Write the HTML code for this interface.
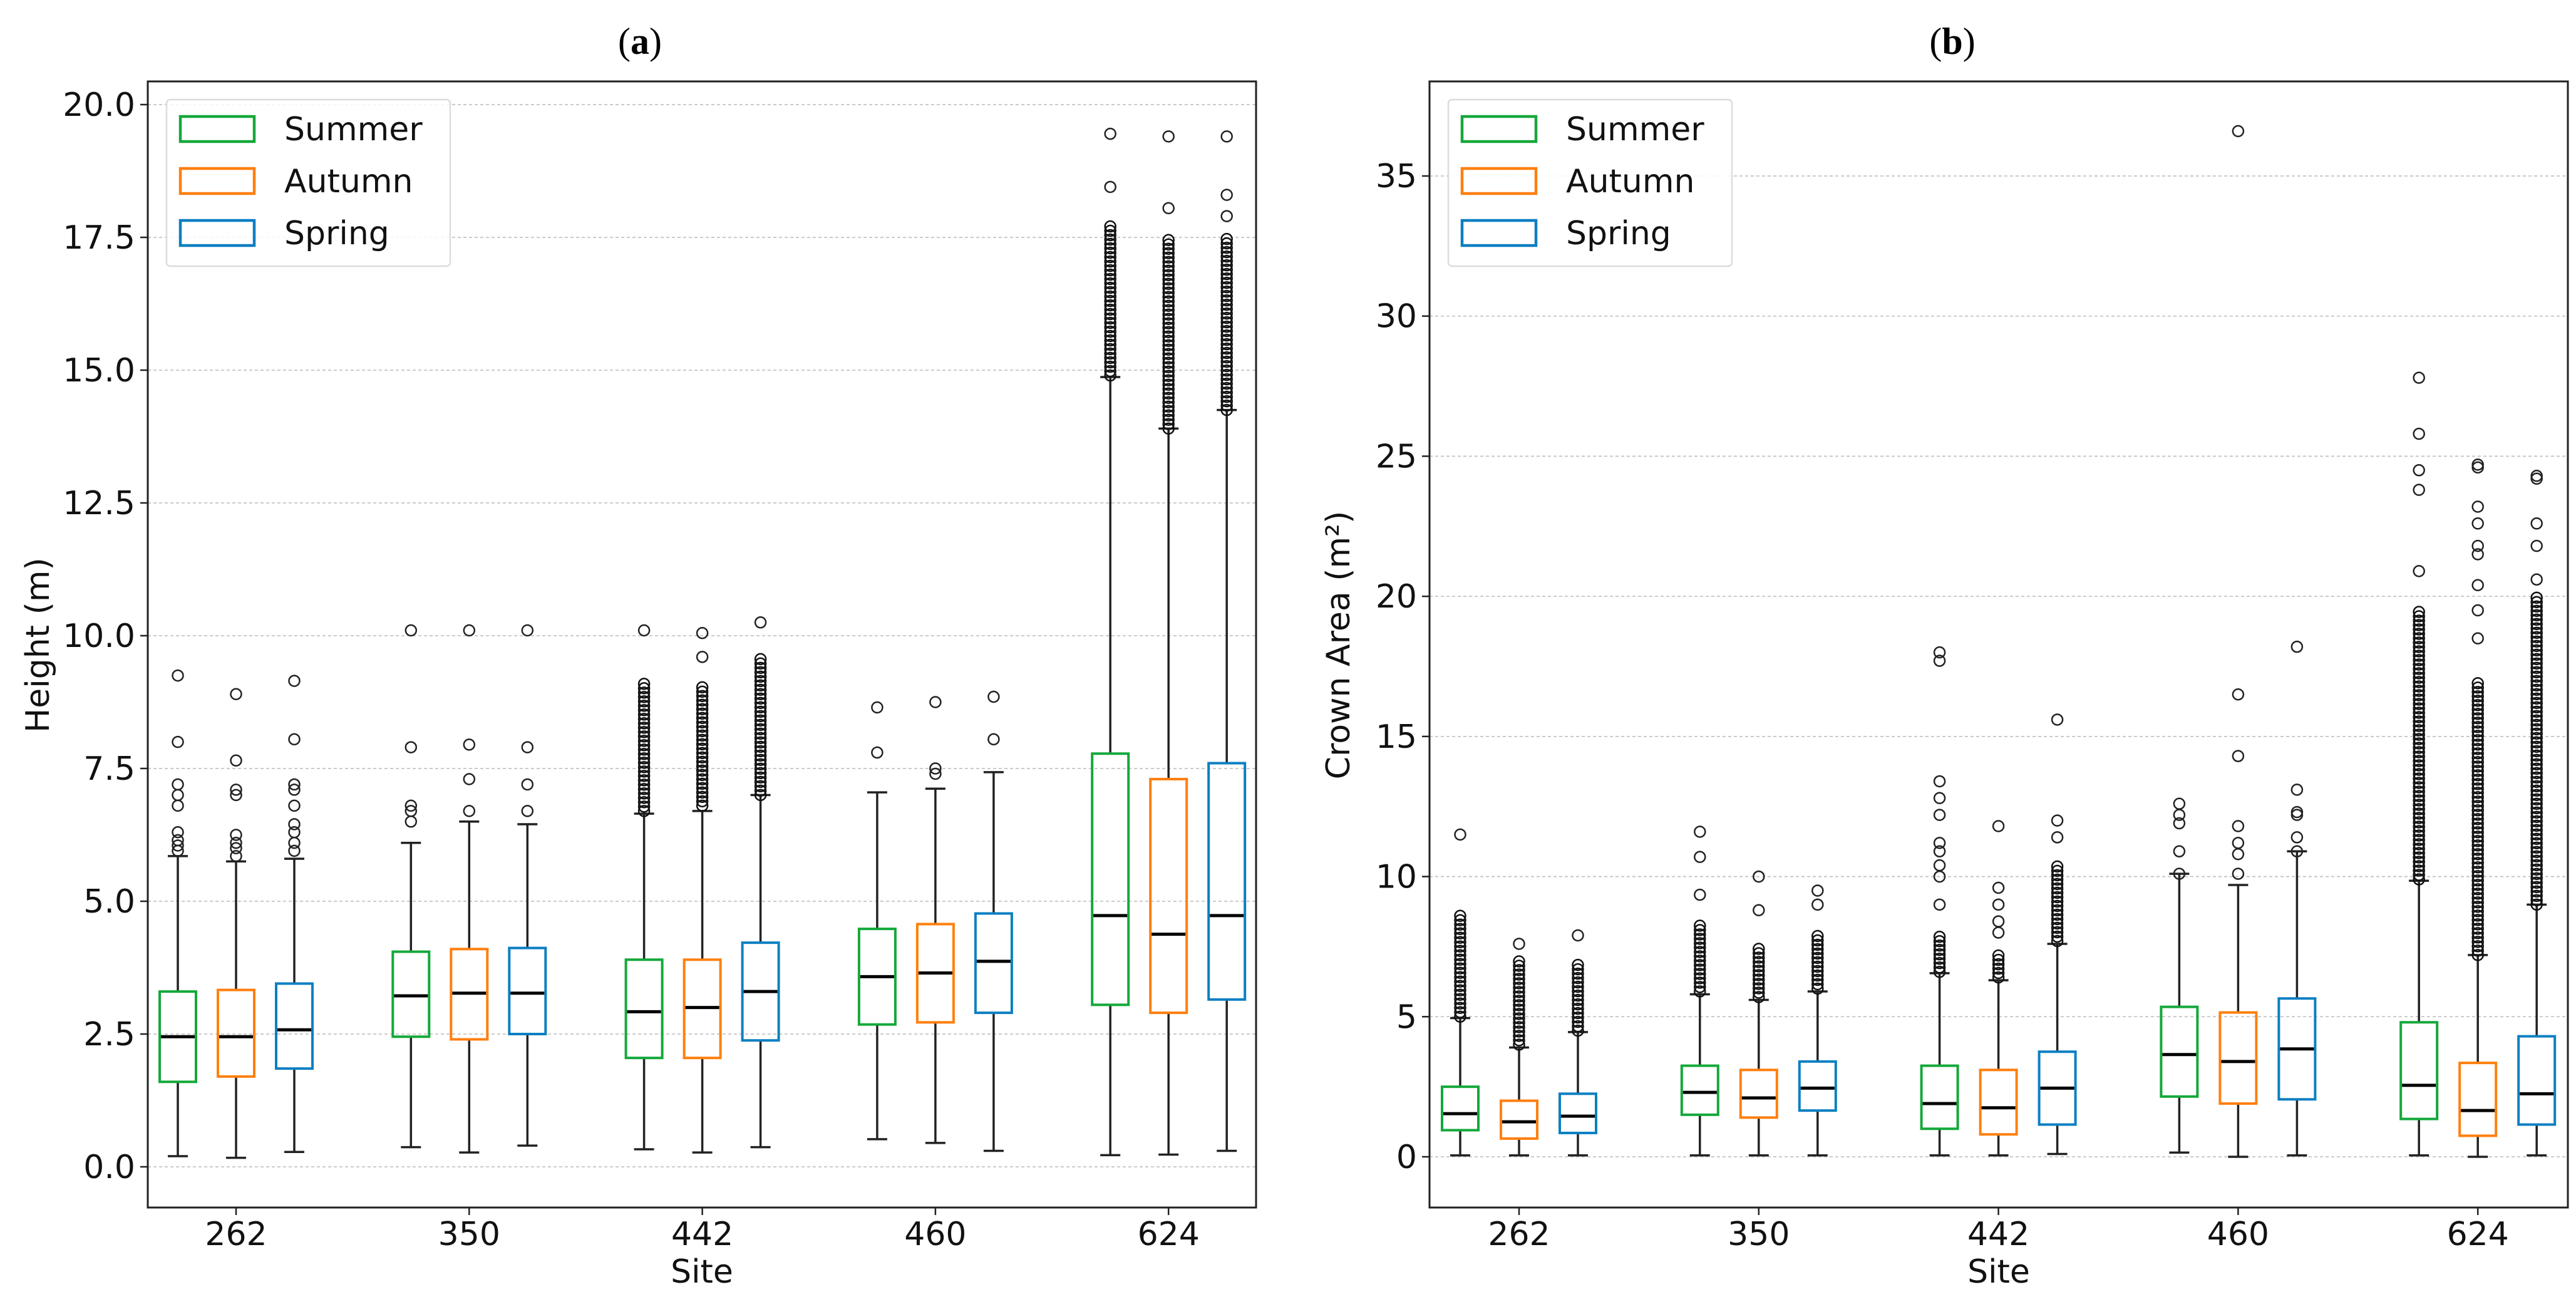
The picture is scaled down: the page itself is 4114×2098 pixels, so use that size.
<!DOCTYPE html>
<html><head><meta charset="utf-8">
<style>
html,body{margin:0;padding:0;background:#fff;}
svg{display:block;font-family:"DejaVu Sans","Liberation Sans",sans-serif;}
</style></head>
<body>
<svg id="chart" width="4114" height="2098" viewBox="0 0 4114 2098" xmlns="http://www.w3.org/2000/svg">
<rect width="4114" height="2098" fill="#fff"/>
</svg>
<script>
const sites = ["262","350","442","460","624"];
const seasons = ["Summer","Autumn","Spring"];
const seasonColors = ["#14a83a","#ff7f0e","#0c7fc2"];
// Panel A (Height, m): [q1, median, q3, whiskerLow, whiskerHigh] per site per season
const heightStats = [
 [[1.6,2.45,3.3,0.2,5.85],[1.7,2.45,3.33,0.17,5.75],[1.85,2.58,3.45,0.28,5.8]],
 [[2.45,3.22,4.05,0.37,6.1],[2.4,3.27,4.1,0.27,6.5],[2.5,3.27,4.12,0.4,6.45]],
 [[2.05,2.92,3.9,0.33,6.65],[2.05,3.0,3.9,0.27,6.7],[2.38,3.3,4.22,0.37,7.0]],
 [[2.68,3.58,4.48,0.52,7.05],[2.72,3.65,4.57,0.45,7.12],[2.9,3.87,4.77,0.3,7.43]],
 [[3.05,4.73,7.78,0.22,14.87],[2.9,4.38,7.3,0.23,13.9],[3.15,4.73,7.6,0.3,14.25]]
];
const heightOutliers = [
 [[5.95,6.05,6.15,6.3,6.8,7.0,7.2,8.0,9.25],[5.85,6.0,6.1,6.25,7.0,7.1,7.65,8.9],[5.95,6.1,6.3,6.45,6.8,7.1,7.2,8.05,9.15]],
 [[6.5,6.7,6.8,7.9,10.1],[6.7,7.3,7.95,10.1],[6.7,7.2,7.9,10.1]],
 [[10.1],[9.6,10.05],[10.25]],
 [[7.8,8.65],[7.4,7.5,8.75],[8.05,8.85]],
 [[18.45,19.45],[18.05,19.4],[17.9,18.3,19.4]]
];
const heightDense = [
 [null,null,null],[null,null,null],
 [[6.7,9.1],[6.8,9.05],[7.0,9.6]],
 [null,null,null],
 [[14.9,17.75],[13.9,17.5],[14.25,17.5]]
];
const heightTicks = [0,2.5,5,7.5,10,12.5,15,17.5,20];
const heightTickLabels = ["0.0","2.5","5.0","7.5","10.0","12.5","15.0","17.5","20.0"];
// Panel B (Crown Area, m²)
const areaStats = [
 [[0.95,1.54,2.5,0.05,4.95],[0.65,1.25,2.0,0.05,3.9],[0.85,1.45,2.25,0.05,4.45]],
 [[1.5,2.3,3.25,0.05,5.8],[1.4,2.1,3.1,0.05,5.6],[1.65,2.45,3.4,0.05,5.9]],
 [[1.0,1.9,3.25,0.05,6.55],[0.8,1.75,3.1,0.05,6.3],[1.15,2.45,3.75,0.1,7.6]],
 [[2.15,3.65,5.35,0.15,10.1],[1.9,3.4,5.15,0.0,9.7],[2.05,3.85,5.65,0.05,10.9]],
 [[1.35,2.55,4.8,0.05,9.85],[0.75,1.65,3.35,0.0,7.2],[1.15,2.25,4.3,0.05,9.0]]
];
const areaOutliers = [
 [[11.5],[7.6],[7.9]],
 [[9.35,10.7,11.6],[8.8,10.0],[9.0,9.5]],
 [[9.0,10.0,10.4,10.9,11.2,12.2,12.8,13.4,17.7,18.0],[8.0,8.4,9.0,9.6,11.8],[11.4,12.0,15.6]],
 [[10.1,10.9,11.9,12.2,12.6],[10.1,10.8,11.2,11.8,14.3,16.5,36.6],[10.9,11.4,12.2,12.3,13.1,18.2]],
 [[20.9,23.8,24.5,25.8,27.8],[18.5,19.5,20.4,21.5,21.8,22.6,23.2,24.6,24.7],[20.6,21.8,22.6,24.2,24.3]]
];
const areaDense = [
 [[5.0,8.7],[4.0,7.0],[4.5,7.0]],
 [[5.9,8.4],[5.7,7.5],[6.0,8.0]],
 [[6.6,8.0],[6.4,7.2],[7.7,10.4]],
 [null,null,null],
 [[9.9,19.5],[7.2,17.0],[9.0,20.0]]
];
const areaTicks = [0,5,10,15,20,25,30,35];
const areaTickLabels = ["0","5","10","15","20","25","30","35"];

const NS="http://www.w3.org/2000/svg";
const svg=document.getElementById('chart');
function mk(tag,attrs,parent){const e=document.createElementNS(NS,tag);for(const k in attrs)e.setAttribute(k,attrs[k]);(parent||svg).appendChild(e);return e;}

function panel(cfg){
 const g=mk('g',{});
 
 
 const L=cfg.left,R=cfg.right,T=130,B=1928;
 const y=v=>cfg.y0+(v)*(cfg.y1-cfg.y0)/cfg.vmax;
 const xc=i=>cfg.x0+i*cfg.dx;
 cfg.ticks.forEach((t,i)=>{
  const gl=mk('line',{x1:L,x2:R,y1:y(t),y2:y(t),stroke:'#c4c4c4','stroke-width':1.8,'stroke-dasharray':'5,4'},g);
  
  
  const tk=mk('line',{x1:L-12,x2:L,y1:y(t),y2:y(t),stroke:'#222','stroke-width':2.5},g);
  
  
  const tl=mk('text',{x:L-20,y:y(t)+18,'text-anchor':'end','font-size':52,fill:'#111'},g);
  tl.textContent=cfg.tickLabels[i];
  
  
 });
 cfg.stats.forEach((site,si)=>{
  site.forEach((s,k)=>{
   const cx=xc(si)+(k-1)*cfg.off, w=58, cw=32;
   const bg=mk('g',{},g);
   
   
   const sw='stroke-width';
   mk('line',{x1:cx,x2:cx,y1:y(s[3]),y2:y(s[0]),stroke:'#222',[sw]:3.5},bg);
   mk('line',{x1:cx,x2:cx,y1:y(s[2]),y2:y(s[4]),stroke:'#222',[sw]:3.5},bg);
   mk('line',{x1:cx-cw/2,x2:cx+cw/2,y1:y(s[3]),y2:y(s[3]),stroke:'#222',[sw]:3.5},bg);
   mk('line',{x1:cx-cw/2,x2:cx+cw/2,y1:y(s[4]),y2:y(s[4]),stroke:'#222',[sw]:3.5},bg);
   mk('rect',{x:cx-w/2,y:y(s[2]),width:w,height:y(s[0])-y(s[2]),fill:'none',stroke:seasonColors[k],[sw]:4},bg);
   mk('line',{x1:cx-w/2+2,x2:cx+w/2-2,y1:y(s[1]),y2:y(s[1]),stroke:'#000',[sw]:5},bg);
   const d=cfg.dense[si][k];
   if(d){
    for(let py=y(d[0]);py>=y(d[1]);py-=7){
     mk('circle',{cx:cx,cy:py,r:8.5,fill:'none',stroke:'#111',[sw]:2.5},bg);
    }
   }
   cfg.outliers[si][k].forEach(v=>{
    const c=mk('circle',{cx:cx,cy:y(v),r:8.5,fill:'none',stroke:'#222','stroke-width':2.5},bg);
    
    
   });
  });
  const xt=mk('line',{x1:xc(si),x2:xc(si),y1:B,y2:B+12,stroke:'#222','stroke-width':2.5},g);
  
  
  const xl=mk('text',{x:xc(si),y:1988,'text-anchor':'middle','font-size':52,fill:'#111'},g);
  xl.textContent=sites[si];
  
  
 });
 const fr=mk('rect',{x:L,y:T,width:R-L,height:B-T,fill:'none',stroke:'#222','stroke-width':3},g);
 
 
 const lg=mk('g',{},g);
 
 
 mk('rect',{x:L+30,y:159,width:453,height:266,rx:6,fill:'#fff','fill-opacity':0.85,stroke:'#dcdcdc','stroke-width':2.5},lg);
 seasons.forEach((s,k)=>{
  const ry=206+k*83;
  const e=mk('g',{},lg);
  
  
  mk('rect',{x:L+52,y:ry-20,width:118,height:40,fill:'none',stroke:seasonColors[k],'stroke-width':4.5},e);
  const t=mk('text',{x:L+218,y:ry+18,'font-size':52,fill:'#111'},e);
  t.textContent=s;
 });
 const yt=mk('text',{x:0,y:0,'text-anchor':'middle','font-size':52,fill:'#111',transform:`translate(${cfg.ylabX},${cfg.ylabY}) rotate(-90)`},g);
 yt.textContent=cfg.ylabel;
 
 
 const xtt=mk('text',{x:(L+R)/2,y:2048,'text-anchor':'middle','font-size':52,fill:'#111'},g);
 xtt.textContent='Site';
 
 
 const pt=mk('text',{x:cfg.titleX,y:86,'text-anchor':'middle','font-size':60,fill:'#000','font-family':'"Liberation Serif",serif'},g);
 pt.innerHTML='(<tspan font-weight="bold">'+cfg.letter+'</tspan>)';
 
 
}

panel({name:'height-panel',left:236,right:2006,y0:1863,y1:167,vmax:20,x0:377,dx:372.3,off:93,
 stats:heightStats,outliers:heightOutliers,dense:heightDense,ticks:heightTicks,tickLabels:heightTickLabels,
 ylabel:'Height (m)',ylabX:78,ylabY:1030,titleX:1022,letter:'a'});
panel({name:'crown-area-panel',left:2283,right:4101,y0:1847,y1:281,vmax:35,x0:2426,dx:382.8,off:94,
 stats:areaStats,outliers:areaOutliers,dense:areaDense,ticks:areaTicks,tickLabels:areaTickLabels,
 ylabel:'Crown Area (m²)',ylabX:2155,ylabY:1030,titleX:3118,letter:'b'});
</script>
</body></html>
